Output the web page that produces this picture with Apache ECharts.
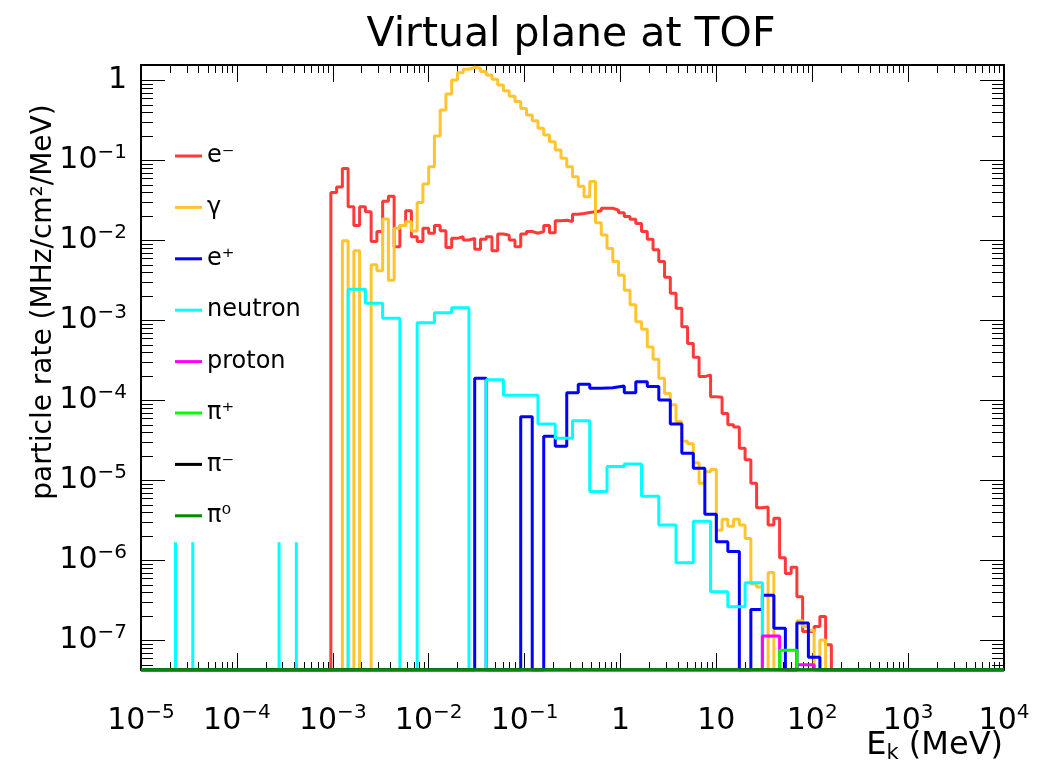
<!DOCTYPE html>
<html><head><meta charset="utf-8">
<script src="https://cdn.jsdelivr.net/npm/echarts@6/dist/echarts.min.js"></script>
<style>html,body{margin:0;padding:0;background:#fff}#c{width:1048px;height:765px}</style>
</head><body><div id="c"></div>
<script>
// ---- axis ranges & ticks ----
const LOG_MIN = -5, LOG_MAX = 4;
const xRange = [1e-5, 1e4];
const yRange = [4.3e-8, 1.57];
const xMajorTicks = [1e-5, 1e-4, 1e-3, 1e-2, 1e-1, 1, 10, 100, 1e3, 1e4];
const yMajorTicks = [1e-7, 1e-6, 1e-5, 1e-4, 1e-3, 1e-2, 1e-1, 1];
const minorMultipliers = [2, 3, 4, 5, 6, 7, 8, 9];

// ---- histogram binning (log-uniform bins between 1e-5 and 1e4) ----
const FINE_BINS = 150, EPLUS_BINS = 75, COARSE_BINS = 50;

// ---- series values (first non-empty bin index, then bin contents) ----
const eMinusStart = 33;
const eMinus = [0.040,0.047,0.080,0.0266,0.0155,0.0266,0.023,0.0098,0.013,0.031,
  0.036,0.0084,0.0155,0.0237,0.0112,0.0098,0.0143,0.0124,0.0155,0.0133,
  0.0082,0.0107,0.0112,0.0102,0.0107,0.0078,0.0104,0.0112,0.0075,0.0121,
  0.0117,0.0102,0.0084,0.0121,0.013,0.0124,0.013,0.0155,0.0126,0.0178,
  0.018,0.0174,0.0214,0.0218,0.0225,0.023,0.0237,0.0254,0.0254,0.0241,
  0.0223,0.020,0.0185,0.0164,0.013,0.0104,0.0077,0.0055,0.0035,0.0022,
  0.00143,0.00084,0.00052,0.00035,2.0e-4,2.1e-4,1.12e-4,1.1e-4,6.9e-5,5.0e-5,
  4.7e-5,2.54e-5,1.82e-5,9.3e-6,4.6e-6,4.7e-6,2.8e-6,3.4e-6,1.09e-6,6.9e-7,
  8.3e-7,3.55e-7,1.3e-7,1.3e-7,1.5e-7,2.0e-7,8.9e-8];

const gammaStart = 35;
const gamma = [0.010,0,0.0075,0,0,0.0050,0.0042,0.0187,0.0032,0.0143,
  0.0155,0.0173,0.0132,0.030,0.051,0.084,0.204,0.43,0.68,1.02,
  1.26,1.39,1.47,1.43,1.30,1.18,1.04,0.88,0.75,0.64,
  0.55,0.45,0.372,0.316,0.254,0.21,0.173,0.136,0.107,0.084,
  0.063,0.048,0.0355,0.055,0.0168,0.0118,0.0080,0.0055,0.0037,0.0024,
  0.00158,0.00097,0.00078,0.00047,0.00033,1.9e-4,1.23e-4,8.9e-5,5.5e-5,3.1e-5,
  2.9e-5,1.68e-5,9.3e-6,1.29e-5,1.38e-5,2.4e-6,3.3e-6,2.7e-6,3.3e-6,2.8e-6,
  1.9e-6,5.1e-7,4.7e-7,0,7.1e-7,0,0,0,0,1.78e-7,
  1.5e-7,1.35e-7,0,1.02e-7];

const ePlusStart = 29;
const ePlus = [1.9e-4,0,0,0,6.3e-5,0,3.6e-5,2.7e-5,1.26e-4,1.6e-4,
  1.43e-4,1.45e-4,1.53e-4,1.26e-4,1.73e-4,1.5e-4,1.02e-4,5.1e-5,2.2e-5,1.43e-5,
  3.8e-6,1.73e-6,1.3e-6,0,2.46e-7,3.7e-7,1.43e-7,0,1.66e-7,6.2e-8];

const neutronStart = 12;
const neutron = [0.00247,0.00165,0.00107,0,0.00094,0.00126,0.00145,0,1.82e-4,1.17e-4,
  1.17e-4,5.1e-5,3.4e-5,5.6e-5,7.3e-6,1.5e-5,1.62e-5,6.4e-6,2.8e-6,9.4e-7,
  3.1e-6,4.1e-7,2.66e-7,5.3e-7];
const neutronSpikeBins = [2, 8];
const neutronSpikeValue = 1.7e-6;

const protonStart = 36;
const proton = [1.14e-7, 0, 5e-8];
const piPlusStart = 37;
const piPlus = [7.6e-8];
const piMinusStart = 0;
const piMinus = [];
const piZeroStart = 0;
const piZero = [];

const names = ['e⁻', 'γ', 'e⁺', 'neutron', 'proton', 'π⁺', 'π⁻', 'π⁰'];
const colors = ['#ff3838', '#ffc42e', '#0000ff', '#00ffff', '#ff00ff', '#00ff00', '#000000', '#008a00'];

// ---- helpers ----
function edge(nBins, i) { return Math.pow(10, LOG_MIN + i * (LOG_MAX - LOG_MIN) / nBins); }
function histLine(nBins, start, values) {
  const pts = [];
  for (let i = 0; i < nBins; i++) {
    const k = i - start;
    let v = (k >= 0 && k < values.length) ? values[k] : 0;
    if (!(v > 0)) v = yRange[0];
    pts.push([edge(nBins, i), v], [edge(nBins, i + 1), v]);
  }
  return pts;
}
function spikeLine(nBins, bins, value) {
  const pts = [];
  bins.forEach(b => {
    [b, b + 1].forEach(e => {
      pts.push([edge(nBins, e), yRange[0]], [edge(nBins, e), value], [edge(nBins, e), '-']);
    });
  });
  return pts;
}
function minorOf(majors) {
  const out = [];
  majors.forEach(m => minorMultipliers.forEach(f => out.push(m * f)));
  if (majors === yMajorTicks) minorMultipliers.forEach(f => out.push(1e-8 * f));
  return out;
}
const xMinorTicks = minorOf(xMajorTicks).filter(v => v > xRange[0] && v < xRange[1]);
const yMinorTicks = minorOf(yMajorTicks).filter(v => v > yRange[0] && v < yRange[1]);

const FONT = 'DejaVu Sans';
function powLabel(v) {
  const e = Math.round(Math.log10(v));
  if (e === 0) return '{b|1}';
  if (e === 1) return '{b|10}';
  return '{b|10}{s|' + (e < 0 ? '\u2212' : '') + Math.abs(e) + '}';
}
const labelRich = {
  b: { fontSize: 30, fontFamily: FONT, color: '#000', lineHeight: 36 },
  s: { fontSize: 20, fontFamily: FONT, color: '#000', lineHeight: 16, verticalAlign: 'top' }
};

function logAxis(pos, range, majors, minors, isMajor, withLabel, len) {
  return {
    type: 'log', logBase: 10, position: pos, min: range[0], max: range[1],
    axisLine: { show: isMajor, lineStyle: { color: '#000', width: 2 } },
    axisTick: { show: true, inside: true, length: len, customValues: isMajor ? majors : minors,
      lineStyle: { color: '#000', width: 1 } },
    axisLabel: withLabel ? { show: true, customValues: majors, formatter: powLabel, rich: labelRich,
      margin: pos === 'bottom' ? 33 : 14 } : { show: false },
    splitLine: { show: false }, minorTick: { show: false }, axisPointer: { show: false }
  };
}

const hists = [
  histLine(FINE_BINS, eMinusStart, eMinus),
  histLine(FINE_BINS, gammaStart, gamma),
  histLine(EPLUS_BINS, ePlusStart, ePlus),
  histLine(COARSE_BINS, neutronStart, neutron),
  histLine(COARSE_BINS, protonStart, proton),
  histLine(COARSE_BINS, piPlusStart, piPlus),
  histLine(FINE_BINS, piMinusStart, piMinus),
  histLine(FINE_BINS, piZeroStart, piZero)
];

const series = hists.map((d, i) => ({
  name: names[i], type: 'line', data: d, symbol: 'none', showSymbol: false,
  lineStyle: { color: colors[i], width: 3 }, itemStyle: { color: colors[i] },
  clip: true, z: 2 + i, xAxisIndex: 0, yAxisIndex: 0, silent: true
}));
series.splice(4, 0, {
  name: 'neutron', type: 'line', data: spikeLine(COARSE_BINS, neutronSpikeBins, neutronSpikeValue),
  symbol: 'none', showSymbol: false, connectNulls: false,
  lineStyle: { color: colors[3], width: 3 }, itemStyle: { color: colors[3] },
  clip: true, z: 5, xAxisIndex: 0, yAxisIndex: 0, silent: true
});

const chart = echarts.init(document.getElementById('c'), null, { renderer: 'canvas' });
chart.setOption({
  animation: false,
  backgroundColor: '#fff',
  title: {
    text: 'Virtual plane at TOF', left: 566, top: 10, textAlign: 'center',
    textStyle: { fontSize: 41, fontWeight: 'normal', fontFamily: FONT, color: '#000' }
  },
  grid: { left: 141, right: 44, top: 65, bottom: 95, containLabel: false, outerBoundsMode: 'none' },
  xAxis: [
    logAxis('bottom', xRange, xMajorTicks, xMinorTicks, true, true, 17),
    logAxis('bottom', xRange, xMajorTicks, xMinorTicks, false, false, 8),
    logAxis('top', xRange, xMajorTicks, xMinorTicks, true, false, 17),
    logAxis('top', xRange, xMajorTicks, xMinorTicks, false, false, 8)
  ],
  yAxis: [
    logAxis('left', yRange, yMajorTicks, yMinorTicks, true, true, 24),
    logAxis('left', yRange, yMajorTicks, yMinorTicks, false, false, 12),
    logAxis('right', yRange, yMajorTicks, yMinorTicks, true, false, 24),
    logAxis('right', yRange, yMajorTicks, yMinorTicks, false, false, 12)
  ],
  legend: {
    data: names, orient: 'vertical', left: 170, top: 136,
    itemWidth: 27, itemHeight: 3, itemGap: 21.4, icon: 'rect',
    selectedMode: false,
    textStyle: { fontSize: 24, fontFamily: FONT, color: '#000', lineHeight: 30 }
  },
  graphic: [
    { type: 'text', x: 44, y: 302, rotation: Math.PI / 2, silent: true,
      style: { text: 'particle rate (MHz/cm²/MeV)', fontSize: 28, fontFamily: FONT, fill: '#000',
        align: 'center', verticalAlign: 'middle' } },
    { type: 'text', x: 1003, y: 764, silent: true,
      style: { text: '{b|E}{k|k}{b| (MeV)}', align: 'right', verticalAlign: 'bottom',
        rich: { b: { fontSize: 32, fontFamily: FONT, fill: '#000', lineHeight: 36 },
                k: { fontSize: 21, fontFamily: FONT, fill: '#000', lineHeight: 36, verticalAlign: 'bottom' } } } }
  ],
  series: series
});
</script></body></html>
